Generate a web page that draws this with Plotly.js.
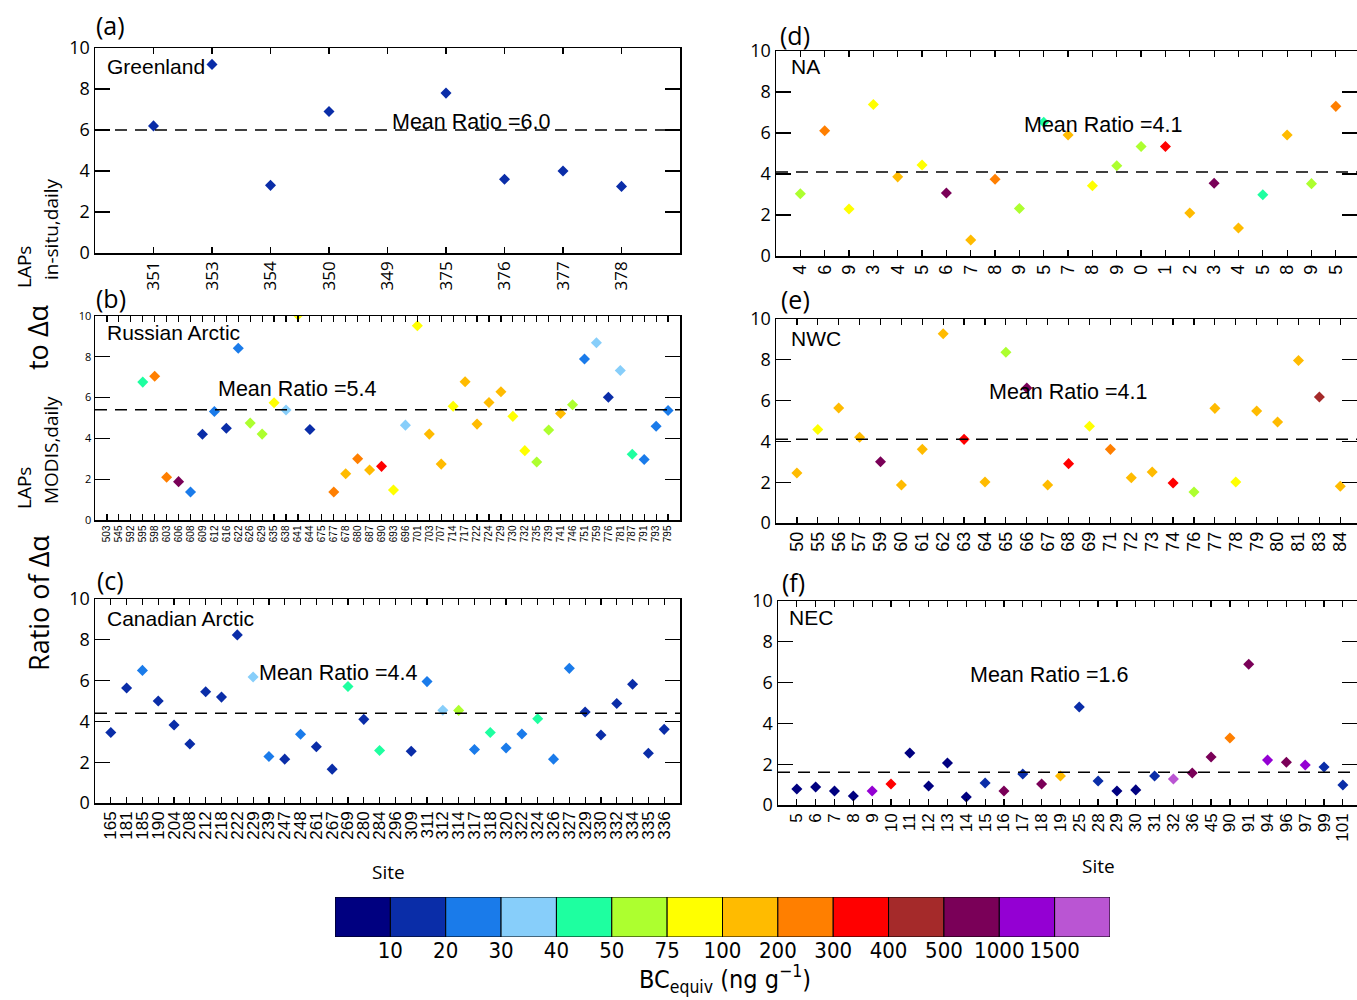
<!DOCTYPE html>
<html>
<head>
<meta charset="utf-8">
<script src="https://cdn.plot.ly/plotly-3.0.1.min.js"></script>
<style>
  html, body { margin: 0; padding: 0; background: #fff; }
  #chart { width: 1357px; height: 1000px; }
</style>
</head>
<body>
<div id="chart"></div>
<script>
// ---------------- DATA ----------------
const binColors = ['#000080', '#0A2DA8', '#1A7BEA', '#87CEFA', '#1EFFA0', '#ADFF2F', '#FFFF00',
                   '#FFBB00', '#FF7F00', '#FF0000', '#A52A2A', '#7A0058', '#9400D3', '#BA55D3'];
const binLabels = ['10', '20', '30', '40', '50', '75', '100', '200', '300', '400', '500', '1000', '1500'];

const greenlandSites = ['351', '353', '354', '350', '349', '375', '376', '377', '378'];
const greenlandRatio = [6.2, 9.2, 3.3, 6.9, null, 7.8, 3.6, 4.0, 3.25];
const greenlandBin   = [1, 1, 1, 1, null, 1, 1, 1, 1];
const greenlandMean  = 6.0;

const russianSites = ['503','545','592','595','598','603','606','608','609','612','616','622','626','629','635','638','641','644','675','677','678','680','687','690','693','696','701','703','707','714','717','722','724','729','730','732','735','739','741','746','751','759','776','781','787','791','793','795'];
const russianRatio = [null,null,null,6.76,7.05,2.1,1.88,1.37,4.2,5.32,4.5,8.42,4.75,4.21,5.75,5.39,10.05,4.44,null,1.37,2.27,3.0,2.45,2.63,1.47,4.65,9.52,4.21,2.74,5.58,6.78,4.7,5.76,6.29,5.08,3.4,2.84,4.41,5.22,5.65,7.89,8.69,6.02,7.33,3.22,2.97,4.6,5.37];
const russianBin   = [null,null,null,4,8,8,11,2,1,2,1,2,5,5,6,3,6,1,null,8,7,8,7,9,6,3,6,7,7,6,7,7,7,7,6,6,5,5,7,5,2,3,1,3,4,2,2,2];
const russianMean  = 5.4;

const canadianSites = ['165','181','185','190','204','208','212','218','222','229','239','247','248','261','267','269','280','284','296','309','311','312','314','317','318','320','322','324','326','327','329','330','332','334','335','336'];
const canadianRatio = [3.46,5.64,6.5,5.0,3.82,2.89,5.45,5.19,8.24,6.18,2.28,2.15,3.37,2.76,1.66,5.71,4.1,2.57,null,2.54,5.95,4.55,4.54,2.62,3.46,2.7,3.38,4.13,2.15,6.6,4.46,3.33,4.88,5.82,2.44,3.61];
const canadianBin   = [1,1,2,1,1,1,1,1,1,3,2,1,2,1,1,4,1,4,null,1,2,3,5,2,4,2,2,4,2,2,1,1,1,1,1,1];
const canadianMean  = 4.4;

const naSites = ['4','6','9','3','4','5','6','7','8','9','5','7','8','9','0','1','2','3','4','5','8','9','5'];
const naRatio = [3.04,6.11,2.29,7.39,3.86,4.44,3.07,0.78,3.74,2.32,6.52,5.9,3.43,4.4,5.34,5.34,2.1,3.55,1.37,2.99,5.9,3.53,7.3];
const naBin   = [5,8,6,6,7,6,11,7,8,5,4,7,6,5,5,9,7,11,7,4,7,5,8];
const naMean  = 4.1;

const nwcSites = ['50','55','56','57','59','60','61','62','63','64','65','66','67','68','69','71','72','73','74','76','77','78','79','80','81','83','84'];
const nwcRatio = [2.45,4.58,5.64,4.2,3.0,1.86,3.61,9.28,4.1,2.01,8.37,6.62,1.86,2.91,4.74,3.61,2.22,2.5,1.96,1.52,5.62,2.01,5.49,4.95,7.97,6.18,1.8];
const nwcBin   = [7,6,7,7,11,7,7,7,9,7,5,11,7,9,6,8,7,7,9,5,7,6,7,7,7,10,7];
const nwcMean  = 4.1;

const necSites = ['5','6','7','8','9','10','11','12','13','14','15','16','17','18','19','25','28','29','30','31','32','36','45','90','91','94','96','97','99','101'];
const necRatio = [0.78,0.88,0.69,0.44,0.69,1.03,2.55,0.93,2.06,0.39,1.08,0.69,1.52,1.03,1.42,4.8,1.18,0.69,0.74,1.42,1.27,1.57,2.35,3.28,6.9,2.2,2.1,1.96,1.86,0.98];
const necBin   = [0,0,0,0,12,9,0,0,0,0,1,11,1,11,7,1,1,0,0,1,13,11,11,8,11,12,11,12,1,1];
const necMean  = 1.6;

const yTicks = [0, 2, 4, 6, 8, 10];

// ---------------- LAYOUT HELPERS ----------------
const W = 1357, H = 1000;
const px = x => x / W;
const py = y => 1 - y / H;
const narrow = 'Liberation Sans Narrow, DejaVu Sans Condensed, Arial Narrow, sans-serif';

const panels = [
  { sites: greenlandSites, ratio: greenlandRatio, bins: greenlandBin, mean: greenlandMean, name: 'Greenland',
    box: [95, 680, 48, 253], xmax: 10, xfs: 17, xff: 'Open Sans', yfs: 18,
    letter: '(a)', lpos: [111, 25], npos: [105, 67], mpos: [471, 122] },
  { sites: russianSites, ratio: russianRatio, bins: russianBin, mean: russianMean, name: 'Russian Arctic',
    box: [95, 680, 316, 520], xmax: 49, xfs: 10, xff: 'Liberation Sans', yfs: 11,
    letter: '(b)', lpos: [111, 298], npos: [105, 333], mpos: [297, 389] },
  { sites: canadianSites, ratio: canadianRatio, bins: canadianBin, mean: canadianMean, name: 'Canadian Arctic',
    box: [95, 680, 599, 803], xmax: 37, xfs: 17, xff: 'Liberation Sans', yfs: 18,
    letter: '(c)', lpos: [111, 580], npos: [105, 618], mpos: [338, 673] },
  { sites: naSites, ratio: naRatio, bins: naBin, mean: naMean, name: 'NA',
    box: [776, 1357, 51, 256], xmax: 23.87, xfs: 18, xff: 'Liberation Sans', yfs: 18,
    letter: '(d)', lpos: [795, 35], npos: [789, 67], mpos: [1103, 125] },
  { sites: nwcSites, ratio: nwcRatio, bins: nwcBin, mean: nwcMean, name: 'NWC',
    box: [776, 1357, 319, 523], xmax: 27.8, xfs: 18, xff: 'Liberation Sans', yfs: 18,
    letter: '(e)', lpos: [795, 299], npos: [789, 338], mpos: [1068, 392] },
  { sites: necSites, ratio: necRatio, bins: necBin, mean: necMean, name: 'NEC',
    box: [778, 1357, 601, 805], xmax: 30.75, xfs: 17, xff: 'Liberation Sans', yfs: 18,
    letter: '(f)', lpos: [793, 582], npos: [787, 617], mpos: [1049, 675] }
];

const traces = [];
const layout = {
  width: W, height: H,
  margin: { l: 0, r: 0, t: 0, b: 0, pad: 0 },
  paper_bgcolor: '#fff', plot_bgcolor: '#fff',
  showlegend: false,
  font: { family: 'Liberation Sans, Arial, sans-serif', color: '#000' },
  shapes: [], annotations: []
};

panels.forEach((p, i) => {
  const k = i + 1;
  const xs = p.sites.map((s, j) => j + 1);
  traces.push({
    type: 'scatter', mode: 'markers',
    x: xs, y: p.ratio,
    xaxis: 'x' + k, yaxis: 'y' + k,
    marker: { symbol: 'diamond', size: 8.5,
              color: p.bins.map(b => b === null ? 'rgba(0,0,0,0)' : binColors[b]),
              line: { width: 0 } },
    cliponaxis: true,
    hovertemplate: 'Site %{text}: %{y}<extra></extra>', text: p.sites
  });
  const [L, R, T, B] = p.box;
  layout['xaxis' + k] = {
    domain: [px(L), Math.min(1, px(R))], range: [0, p.xmax], anchor: 'y' + k,
    tickmode: 'array', tickvals: xs, ticktext: p.sites, tickangle: -90,
    ticks: 'inside', ticklen: 6, tickwidth: 1.2, tickcolor: '#000',
    showline: true, linecolor: '#000', linewidth: 1.5, mirror: 'ticks',
    showgrid: false, zeroline: false,
    tickfont: { family: p.xff, size: p.xfs, color: '#000' }
  };
  layout['yaxis' + k] = {
    domain: [py(B), py(T)], range: [0, 10], anchor: 'x' + k,
    tickmode: 'array', tickvals: yTicks,
    ticks: 'inside', ticklen: 15, tickwidth: 1.2, tickcolor: '#000',
    showline: true, linecolor: '#000', linewidth: 1.5, mirror: 'ticks',
    showgrid: false, zeroline: false,
    tickfont: { family: 'Open Sans', size: p.yfs, color: '#000' }
  };
  layout.shapes.push({
    type: 'line', xref: 'x' + k + ' domain', yref: 'y' + k,
    x0: 0, x1: 1, y0: p.mean, y1: p.mean,
    line: { color: '#000', width: 1.5, dash: '12px,8px' }
  });
  layout.annotations.push({
    xref: 'paper', yref: 'paper', x: px(p.lpos[0]), y: py(p.lpos[1]),
    xanchor: 'center', yanchor: 'middle', showarrow: false,
    text: p.letter, font: { family: 'Open Sans', size: 25, color: '#000' }
  });
  layout.annotations.push({
    xref: 'paper', yref: 'paper', x: px(p.npos[0]), y: py(p.npos[1]),
    xanchor: 'left', yanchor: 'middle', showarrow: false,
    text: p.name, font: { family: 'Liberation Sans', size: 21, color: '#000' }
  });
  layout.annotations.push({
    xref: 'paper', yref: 'paper', x: px(p.mpos[0]), y: py(p.mpos[1]),
    xanchor: 'center', yanchor: 'middle', showarrow: false,
    text: 'Mean Ratio =' + p.mean.toFixed(1), font: { family: 'Liberation Sans', size: 21.5, color: '#000' }
  });
});

// colour scale drawn as a strip of bins
traces.push({
  type: 'bar', x: binColors.map((c, i) => i + 0.5), y: binColors.map(() => 1),
  width: binColors.map(() => 1),
  xaxis: 'x7', yaxis: 'y7',
  marker: { color: binColors, line: { color: '#000', width: 1 } },
  hoverinfo: 'skip'
});
layout.xaxis7 = {
  domain: [px(335), px(1110)], range: [0, binColors.length], anchor: 'y7',
  tickmode: 'array', tickvals: binLabels.map((l, i) => i + 1), ticktext: binLabels,
  tickangle: 0, ticks: '', showline: false, showgrid: false, zeroline: false,
  ticklabelstandoff: -2,
  tickfont: { family: narrow, size: 22, color: '#000' }
};
layout.yaxis7 = {
  domain: [py(937), py(897)], range: [0, 1], anchor: 'x7',
  showticklabels: false, ticks: '', showline: false, showgrid: false, zeroline: false
};
layout.annotations.push({
  xref: 'paper', yref: 'paper', x: px(725), y: py(979), xanchor: 'center', yanchor: 'middle',
  showarrow: false, text: 'BC<sub>equiv</sub> (ng g<sup>−1</sup>)',
  font: { family: narrow, size: 25, color: '#000' }
});

// Site labels
[[388, 872], [1098, 866]].forEach(([x, y]) => layout.annotations.push({
  xref: 'paper', yref: 'paper', x: px(x), y: py(y), xanchor: 'center', yanchor: 'middle',
  showarrow: false, text: 'Site', font: { family: 'Open Sans', size: 19, color: '#000' }
}));

// Y title pieces (rotated)
const yTitle = [
  { t: 'Ratio of Δα', x: 38, y: 603, s: 27 },
  { t: 'LAPs', x: 24, y: 488, s: 19 },
  { t: 'MODIS,daily', x: 51, y: 450, s: 19 },
  { t: 'to Δα', x: 38, y: 337, s: 27 },
  { t: 'LAPs', x: 24, y: 267, s: 19 },
  { t: 'in-situ,daily', x: 51, y: 229, s: 19 }
];
yTitle.forEach(o => layout.annotations.push({
  xref: 'paper', yref: 'paper', x: px(o.x), y: py(o.y), xanchor: 'center', yanchor: 'middle',
  showarrow: false, textangle: -90, text: o.t,
  font: { family: 'Open Sans', size: o.s, color: '#000' }
}));

Plotly.newPlot('chart', traces, layout, { displayModeBar: false, staticPlot: true });
</script>
</body>
</html>
